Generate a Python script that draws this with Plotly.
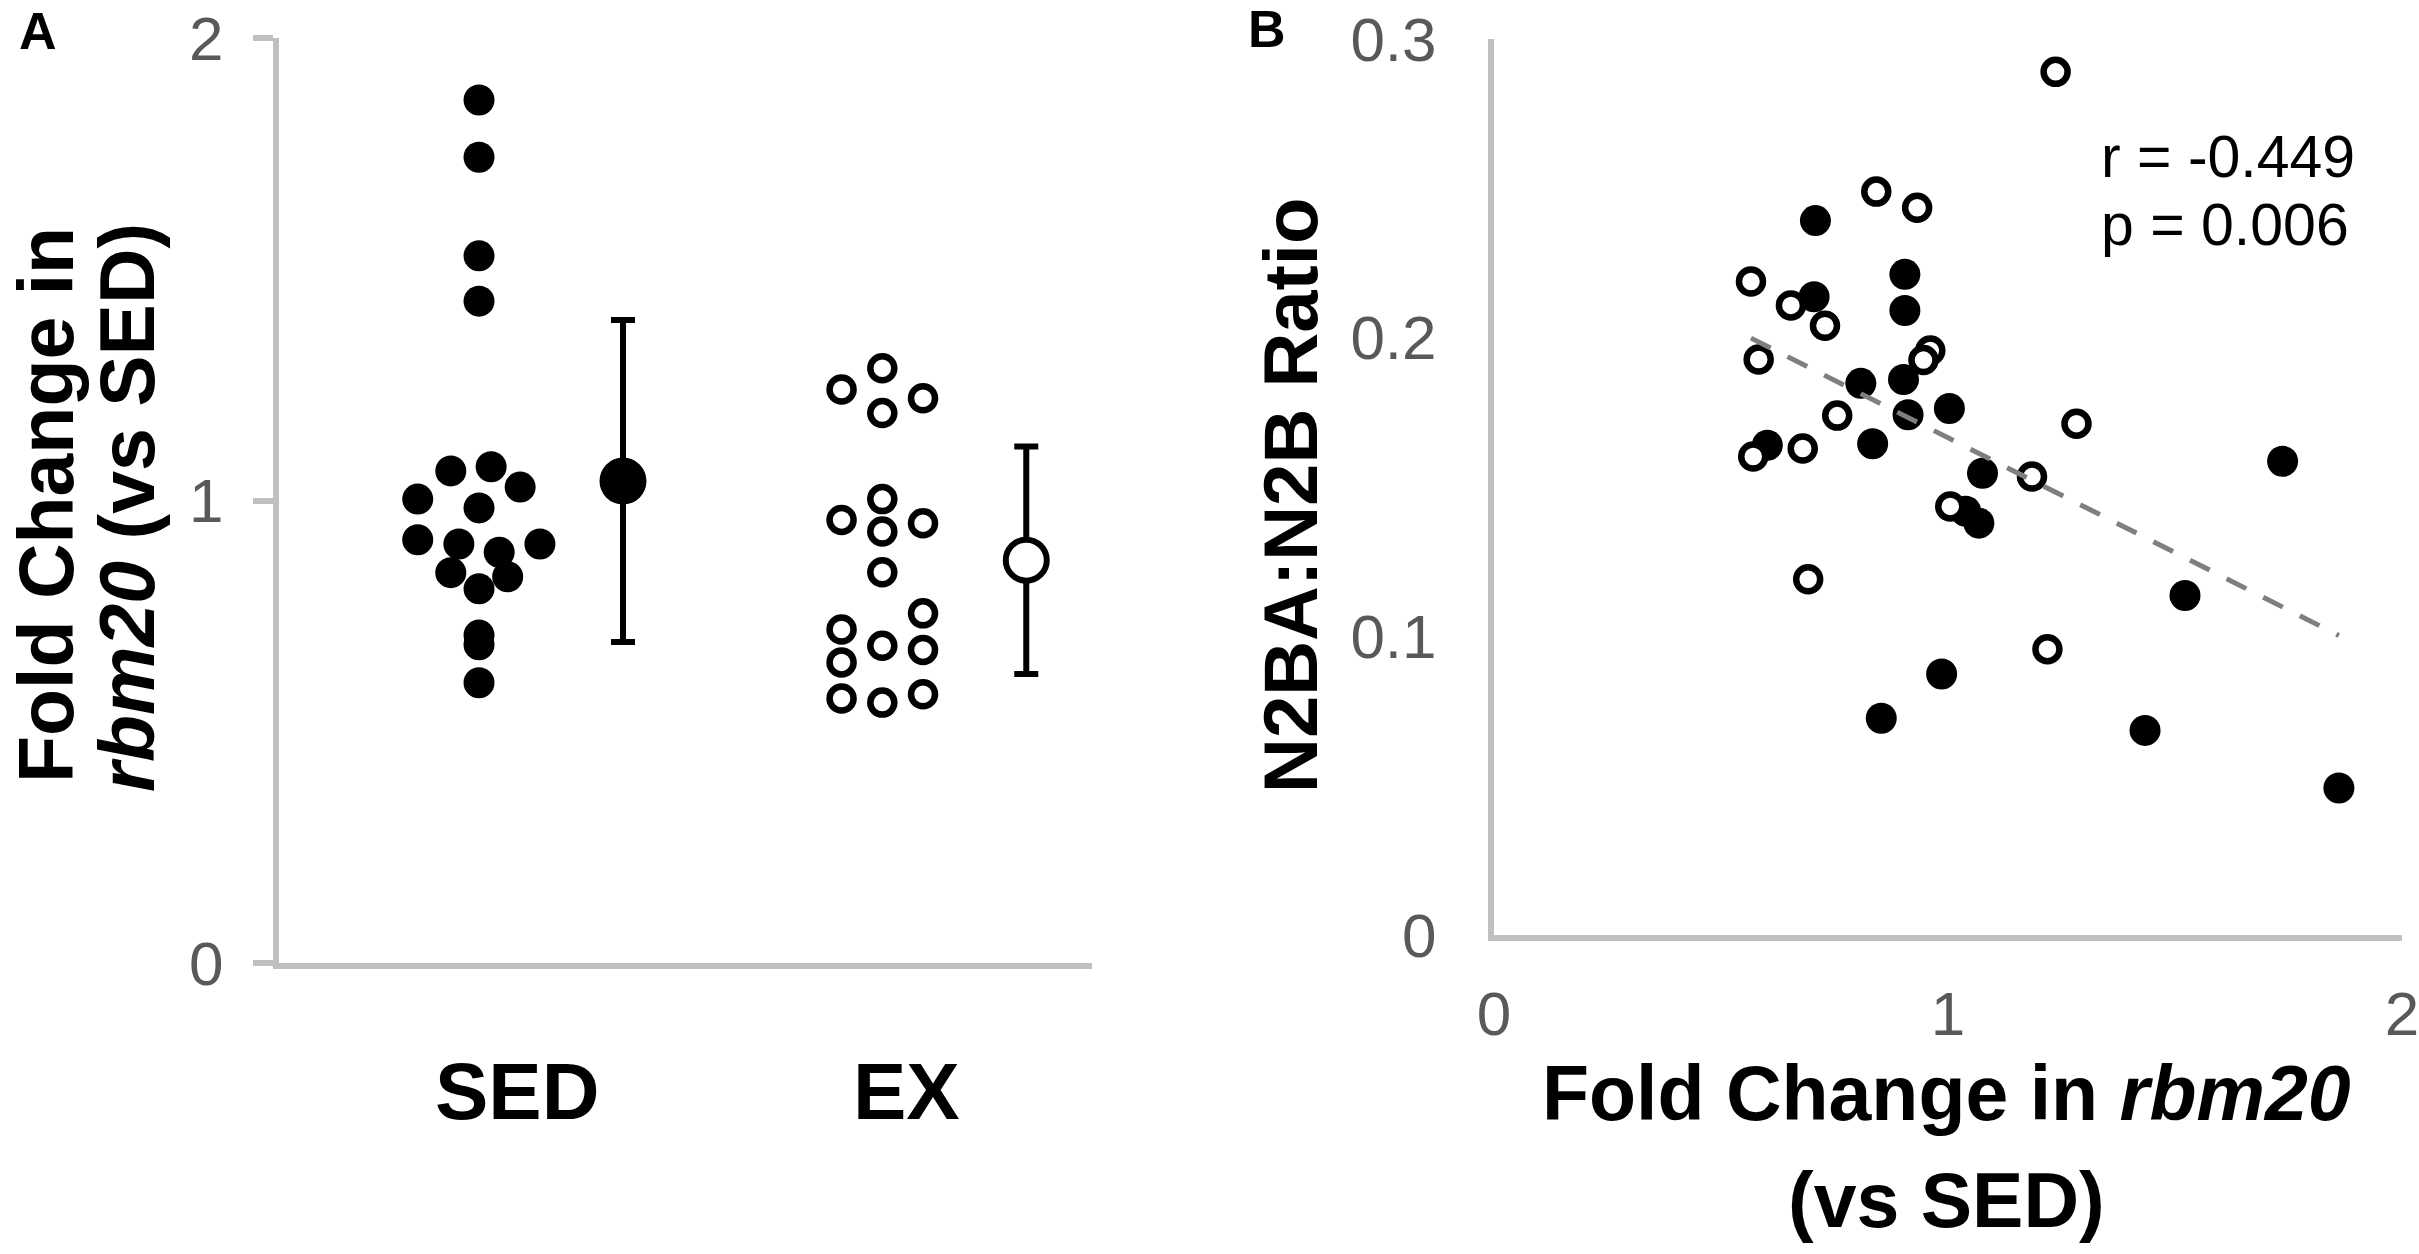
import numpy as np
import plotly.graph_objects as go

# ---------------- data ----------------
# Panel A: fold change in rbm20, individual animals
sed_values = [1.866, 1.742, 1.529, 1.431, 1.064, 1.073, 1.029, 1.003, 0.984,
              0.915, 0.906, 0.888, 0.906, 0.844, 0.835, 0.809, 0.709, 0.688, 0.606]
sed_jitter = [0, 0, 0, 0, -0.070, 0.030, 0.102, -0.152, 0,
              -0.152, -0.050, 0.050, 0.151, -0.070, 0.071, 0, 0, 0, 0]
ex_values = [1.286, 1.240, 1.221, 1.189, 1.003, 0.958, 0.951, 0.933, 0.845,
             0.756, 0.721, 0.686, 0.677, 0.650, 0.572, 0.563, 0.581]
ex_jitter = [0, -0.101, 0.101, 0, 0, -0.101, 0.101, 0, 0,
             0.101, -0.101, 0, 0.101, -0.101, -0.101, 0, 0.101]
group_labels = ["SED", "EX"]
group_pos = [1, 2]
mean_offset = 0.357
group_means = [1.042, 0.871]
group_err = [0.348, 0.246]

# Panel B: N2BA:N2B ratio vs fold change in rbm20
sed_fc = [0.708, 0.905, 0.705, 0.905, 0.808, 0.902, 0.912, 1.003, 0.834, 0.602,
          1.076, 1.039, 1.068, 1.737, 1.522, 0.986, 0.853, 1.434, 1.861]
sed_ratio = [0.2392, 0.2212, 0.2137, 0.2091, 0.1847, 0.1860, 0.1742, 0.1763, 0.1645, 0.1640,
             0.1546, 0.1419, 0.1379, 0.1586, 0.1137, 0.0874, 0.0726, 0.0685, 0.0492]
ex_fc = [1.237, 0.842, 0.932, 0.566, 0.654, 0.729, 0.583, 0.961, 0.946, 0.756,
         1.283, 0.680, 0.571, 1.185, 1.005, 0.692, 1.219]
ex_ratio = [0.2890, 0.2489, 0.2435, 0.2188, 0.2108, 0.2040, 0.1927, 0.1957, 0.1925, 0.1739,
            0.1712, 0.1629, 0.1602, 0.1535, 0.1435, 0.1191, 0.0957]
stats_lines = ["r = -0.449", "p = 0.006"]

yA_ticks = [0, 1, 2]
xB_ticks = [0, 1, 2]
yB_ticks = [0, 0.1, 0.2, 0.3]
yB_ticktext = ["0", "0.1", "0.2", "0.3"]

# ---------------- figure ----------------
W, H = 2419, 1254
FONT = "Liberation Sans, Arial, sans-serif"
AXC = "#BFBFBF"
TICKC = "#595959"

def px(v):
    return v / W

def py(v):
    return 1 - v / H

fig = go.Figure()

filled = dict(color="black", size=31, line=dict(width=0))
hollow = dict(color="white", size=24, line=dict(color="black", width=6.5))

# Panel A points
fig.add_trace(go.Scatter(
    x=[group_pos[0] + j for j in sed_jitter], y=sed_values, mode="markers",
    marker=filled, xaxis="x", yaxis="y", cliponaxis=False))
fig.add_trace(go.Scatter(
    x=[group_pos[1] + j for j in ex_jitter], y=ex_values, mode="markers",
    marker=hollow, xaxis="x", yaxis="y", cliponaxis=False))
# means with error bars
fig.add_trace(go.Scatter(
    x=[group_pos[0] + mean_offset], y=[group_means[0]], mode="markers",
    marker=dict(color="black", size=47, line=dict(width=0)),
    error_y=dict(type="data", array=[group_err[0]], color="black", thickness=6, width=12),
    xaxis="x", yaxis="y", cliponaxis=False))
fig.add_trace(go.Scatter(
    x=[group_pos[1] + mean_offset], y=[group_means[1]], mode="markers",
    marker=dict(color="white", size=41, line=dict(color="black", width=6)),
    error_y=dict(type="data", array=[group_err[1]], color="black", thickness=6, width=12),
    xaxis="x", yaxis="y", cliponaxis=False))

# Panel B points
fig.add_trace(go.Scatter(x=sed_fc, y=sed_ratio, mode="markers", marker=filled,
                         xaxis="x2", yaxis="y2", cliponaxis=False))
fig.add_trace(go.Scatter(x=ex_fc, y=ex_ratio, mode="markers", marker=hollow,
                         xaxis="x2", yaxis="y2", cliponaxis=False))

# linear trendline over all points
all_x = np.array(sed_fc + ex_fc)
all_y = np.array(sed_ratio + ex_ratio)
slope, intercept = np.polyfit(all_x, all_y, 1)
tx = np.array([all_x.min(), all_x.max()])
fig.add_trace(go.Scatter(x=tx, y=slope * tx + intercept, mode="lines",
                         line=dict(color="#7F7F7F", width=5, dash="22px,19px"),
                         xaxis="x2", yaxis="y2", cliponaxis=False))

tickfont = dict(family=FONT, size=62, color=TICKC)

fig.update_layout(
    width=W, height=H, margin=dict(l=0, r=0, t=0, b=0, autoexpand=False),
    paper_bgcolor="white", plot_bgcolor="white", showlegend=False,
    font=dict(family=FONT, color="black"),
    xaxis=dict(domain=[px(279), px(1092)], range=[0.504, 2.520], anchor="y",
               showline=True, linecolor=AXC, linewidth=6, showgrid=False,
               zeroline=False, showticklabels=False, ticks="", automargin=False),
    yaxis=dict(domain=[py(963), py(38)], range=[0, 2], anchor="x",
               tickvals=yA_ticks, ticks="outside", ticklen=20, tickwidth=6,
               tickcolor=AXC, showline=True, linecolor=AXC, linewidth=6,
               showgrid=False, zeroline=False, tickfont=tickfont,
               ticklabelstandoff=17, automargin=False, ticklabeloverflow="allow"),
    xaxis2=dict(domain=[px(1494), px(2402)], range=[0, 2], anchor="y2",
                tickvals=xB_ticks, ticks="", showline=True, linecolor=AXC,
                linewidth=6, showgrid=False, zeroline=False, tickfont=tickfont,
                ticklabelstandoff=20, automargin=False, ticklabeloverflow="allow"),
    yaxis2=dict(domain=[py(935), py(39)], range=[0, 0.3], anchor="x2",
                tickvals=yB_ticks, ticktext=yB_ticktext, ticks="", showline=True,
                linecolor=AXC, linewidth=6, showgrid=False, zeroline=False,
                tickfont=tickfont, ticklabelstandoff=39, automargin=False,
                ticklabeloverflow="allow"),
)

ann = []
def add_text(text, x, y, size, bold=True, angle=0, xanchor="center", color="black"):
    ann.append(dict(text=(f"<b>{text}</b>" if bold else text), x=px(x), y=py(y),
                    xref="paper", yref="paper", showarrow=False, textangle=angle,
                    xanchor=xanchor, yanchor="middle",
                    font=dict(family=FONT, size=size, color=color)))

# panel letters
add_text("A", 38, 31, 52)
add_text("B", 1267, 29, 52)
# panel A titles
add_text("Fold Change in", 46, 505, 77, angle=-90)
add_text("<i>rbm20</i> (vs SED)", 127, 508, 77, angle=-90)
add_text(group_labels[0], 517, 1091, 80)
add_text(group_labels[1], 906, 1091, 80)
# panel B titles
add_text("N2BA:N2B Ratio", 1291, 496, 76, angle=-90)
add_text("Fold Change in <i>rbm20</i>", 1946, 1093, 77)
add_text("(vs SED)", 1946, 1200, 77)
# statistics
add_text(stats_lines[0], 2099, 157, 59, bold=False, xanchor="left")
add_text(stats_lines[1], 2099, 225, 59, bold=False, xanchor="left")

fig.update_layout(annotations=ann)
fig.write_html("out.html",
               config={"displayModeBar": False},
               post_script="document.body.style.margin='0px';"
                           "document.documentElement.style.overflow='hidden';")
